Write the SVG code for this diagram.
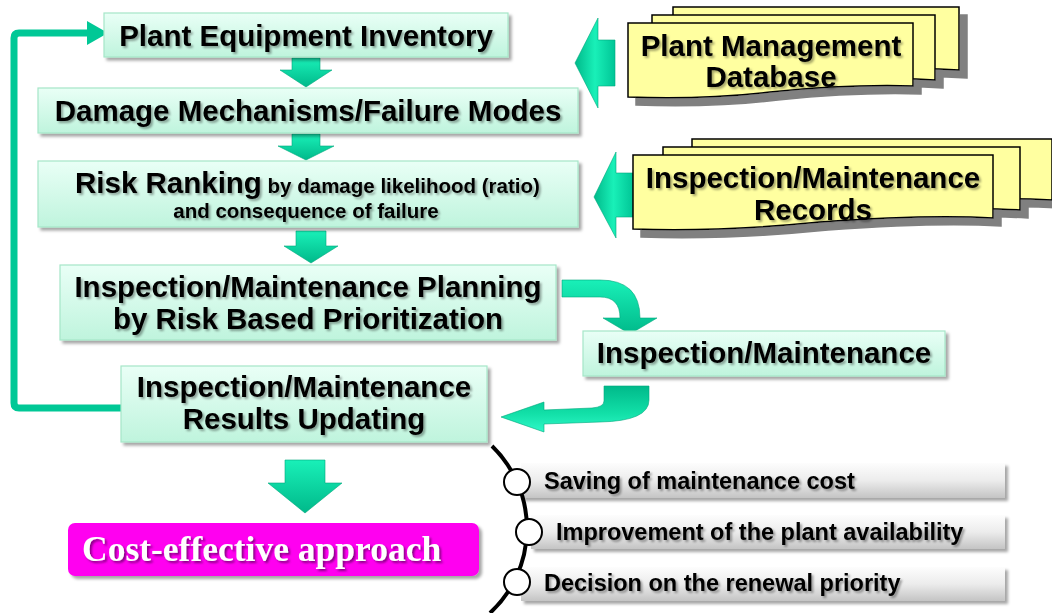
<svg xmlns="http://www.w3.org/2000/svg" width="1052" height="613" viewBox="0 0 1052 613">
<defs>
<linearGradient id="boxg" x1="0" y1="0" x2="0" y2="1"><stop offset="0" stop-color="#e9fff6"/><stop offset="1" stop-color="#bff4dd"/></linearGradient>
<linearGradient id="arrg" x1="0" y1="0" x2="0" y2="1"><stop offset="0" stop-color="#19f0b8"/><stop offset="1" stop-color="#00b98a"/></linearGradient>
<linearGradient id="arrv" x1="0" y1="0" x2="0" y2="1"><stop offset="0" stop-color="#00b98a"/><stop offset="0.6" stop-color="#12e0a8"/><stop offset="1" stop-color="#2ff8c8"/></linearGradient>
<linearGradient id="arrh" x1="0" y1="0" x2="1" y2="0"><stop offset="0" stop-color="#00b98a"/><stop offset="0.5" stop-color="#19f0b8"/><stop offset="1" stop-color="#00c596"/></linearGradient>
<linearGradient id="barg" x1="0" y1="0" x2="0" y2="1"><stop offset="0" stop-color="#fdfdfd"/><stop offset="0.5" stop-color="#ececec"/><stop offset="1" stop-color="#c4c4c4"/></linearGradient>
<filter id="bsh" x="-5%" y="-20%" width="115%" height="150%"><feDropShadow dx="3" dy="3" stdDeviation="1.5" flood-color="#000" flood-opacity="0.35"/></filter>
<filter id="tsh" x="-5%" y="-20%" width="115%" height="150%"><feDropShadow dx="2" dy="2" stdDeviation="1" flood-color="#000" flood-opacity="0.35"/></filter>
<filter id="wsh" x="-5%" y="-20%" width="115%" height="150%"><feDropShadow dx="2" dy="2" stdDeviation="1" flood-color="#5a005a" flood-opacity="0.7"/></filter>
<filter id="ysh" x="-5%" y="-20%" width="120%" height="160%"><feDropShadow dx="8" dy="8" stdDeviation="0.3" flood-color="#808080" flood-opacity="1"/></filter>
</defs>
<style>
.box{fill:url(#boxg);stroke:#a6e6c8;stroke-width:1.2;filter:url(#bsh)}
.t{font-family:"Liberation Sans",Arial,sans-serif;font-weight:bold;fill:#000;filter:url(#tsh)}
.big{font-size:29.5px}
.sm{font-size:20.5px}
.li{font-size:23.5px}
.arr{fill:url(#arrg);stroke:#00a87c;stroke-width:0.6}
.sheet{fill:#ffffa0;stroke:#000;stroke-width:1.5}
.bar{fill:url(#barg);filter:url(#bsh)}
.dot{fill:#fff;stroke:#000;stroke-width:2}
</style>

<g id="connectors">
<path d="M121,408 L19,408 Q14,408 14,403 L14,38 Q14,33 19,33 L90,33" fill="none" stroke="#00c896" stroke-width="7"/>
<path d="M87,21 L108,33 L87,45 Z" fill="#00c896"/>
<path class="arr" d="M292,58 L320,58 L320,70 L332,70 L306,87 L280,70 L292,70 Z"/>
<path class="arr" d="M292,134 L320,134 L320,146 L334,146 L306,160 L278,146 L292,146 Z"/>
<path class="arr" d="M296,231 L326,231 L326,246 L338,246 L311,263 L284,246 L296,246 Z"/>
<path class="arr" d="M285,460 L325,460 L325,483 L342,483 L305,513 L268,483 L285,483 Z"/>
<path class="arr" d="M615,40 L598,40 L598,18 L575,63 L598,108 L598,86 L615,86 Z" style="fill:url(#arrh)"/>
<path class="arr" d="M633,173 L616,173 L616,152 L594,197 L616,238 L616,217 L633,217 Z" style="fill:url(#arrh)"/>
<path class="arr" d="M562,280 L600,280 Q640,280 640,318 L657,318 L630,334 L603,318 L620,318 Q620,297 600,297 L562,297 Z"/>
<path class="arr" style="fill:url(#arrv)" d="M604,386 L649,386 L649,400 Q649,421 600,422 L544,424 L544,432 L501,417 L544,402 L544,410 L592,408 Q604,407 604,401 Z"/>
</g>

<g id="n1"><rect class="box" x="104" y="13" width="404" height="44"/><text class="t big" x="306" y="46" text-anchor="middle">Plant Equipment Inventory</text></g>
<g id="n2"><rect class="box" x="38" y="88" width="540" height="45"/><text class="t big" x="308" y="121" text-anchor="middle">Damage Mechanisms/Failure Modes</text></g>
<g id="n3"><rect class="box" x="38" y="161" width="540" height="66"/><text class="t" x="75" y="193"><tspan class="big">Risk Ranking</tspan><tspan class="sm"> by damage likelihood (ratio)</tspan></text><text class="t sm" x="306" y="218" text-anchor="middle">and consequence of failure</text></g>
<g id="n4"><rect class="box" x="60" y="265" width="496" height="75"/><text class="t big" x="308" y="297" text-anchor="middle">Inspection/Maintenance Planning</text><text class="t big" x="308" y="329" text-anchor="middle">by Risk Based Prioritization</text></g>
<g id="n5"><rect class="box" x="583" y="331" width="362" height="45"/><text class="t big" x="764" y="363" text-anchor="middle">Inspection/Maintenance</text></g>
<g id="n6"><rect class="box" x="121" y="366" width="366" height="76"/><text class="t big" x="304" y="397" text-anchor="middle">Inspection/Maintenance</text><text class="t big" x="304" y="429" text-anchor="middle">Results Updating</text></g>

<g id="db1" filter="url(#ysh)">
<path class="sheet" d="M673,7 L959,7 L959,70 Q900,66 816,74 Q740,80 673,76 Z"/>
<path class="sheet" d="M652,15 L935,15 L935,80 Q880,76 796,84 Q720,90 652,88 Z"/>
<path class="sheet" d="M628,23 L913,23 L913,86 Q850,84 770,92 Q700,100 628,97 Z"/>
</g>
<g id="db1t"><text class="t big" x="771" y="56" text-anchor="middle">Plant Management</text><text class="t big" x="771" y="87" text-anchor="middle">Database</text></g>

<g id="db2" filter="url(#ysh)">
<path class="sheet" d="M692,139 L1052,139 L1052,200 Q990,196 880,204 Q780,210 692,206 Z"/>
<path class="sheet" d="M663,147 L1020,147 L1020,210 Q960,206 850,214 Q750,220 663,216 Z"/>
<path class="sheet" d="M633,155 L993,155 L993,218 Q930,214 820,222 Q720,232 633,229 Z"/>
</g>
<g id="db2t"><text class="t big" x="813" y="188" text-anchor="middle">Inspection/Maintenance</text><text class="t big" x="813" y="220" text-anchor="middle">Records</text></g>

<g id="result"><rect x="68" y="523" width="411" height="53" rx="7" fill="#ff00f0" filter="url(#bsh)"/><text x="82" y="561" font-family="'Liberation Serif','Times New Roman',serif" font-weight="bold" font-size="35.5" fill="#fff" filter="url(#wsh)">Cost-effective approach</text></g>

<g id="benefits">
<rect class="bar" x="521" y="463" width="484" height="35"/>
<rect class="bar" x="531" y="515" width="474" height="34"/>
<rect class="bar" x="521" y="567" width="484" height="34"/>
<path d="M492,446 A115,115 0 0 1 490,613" fill="none" stroke="#000" stroke-width="4"/>
<circle class="dot" cx="517" cy="482" r="13"/>
<circle class="dot" cx="529" cy="532" r="13"/>
<circle class="dot" cx="517" cy="582" r="13"/>
<text class="t li" x="544" y="489">Saving of maintenance cost</text>
<text class="t li" x="556" y="540">Improvement of the plant availability</text>
<text class="t li" x="544" y="591">Decision on the renewal priority</text>
</g>
</svg>
